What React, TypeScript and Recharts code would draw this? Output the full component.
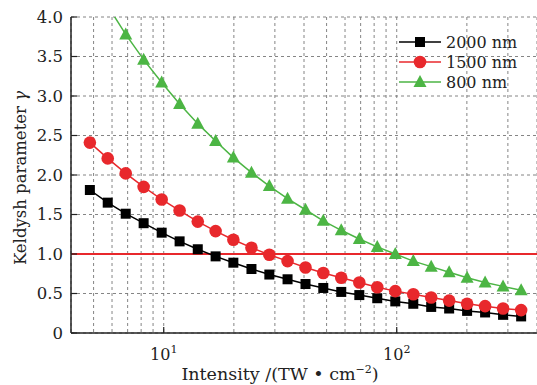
import React from 'react';
import { LineChart, Line, XAxis, YAxis, CartesianGrid, ReferenceLine, Legend } from 'recharts';

// intensity in TW/cm^2 (log-spaced samples)
const intensity = [
  4.82, 5.75, 6.87, 8.2, 9.8, 11.7, 14.0, 16.7, 19.9, 23.8, 28.4, 34.0, 40.6,
  48.4, 57.8, 69.1, 82.5, 98.6, 117.8, 140.6, 167.9, 200.5, 239.5, 286, 342,
];
const gamma2000 = [
  1.81, 1.65, 1.51, 1.39, 1.27, 1.16, 1.06, 0.97, 0.89, 0.81, 0.74, 0.68, 0.62,
  0.57, 0.52, 0.48, 0.44, 0.4, 0.37, 0.33, 0.31, 0.28, 0.26, 0.23, 0.21,
];
const gamma1500 = [
  2.41, 2.21, 2.02, 1.85, 1.69, 1.55, 1.41, 1.29, 1.18, 1.08, 0.99, 0.91, 0.83,
  0.76, 0.7, 0.64, 0.58, 0.53, 0.49, 0.45, 0.41, 0.37, 0.34, 0.31, 0.29,
];
const gamma800 = [
  4.52, 4.14, 3.78, 3.46, 3.17, 2.9, 2.65, 2.43, 2.22, 2.03, 1.86, 1.7, 1.56,
  1.42, 1.3, 1.19, 1.09, 1.0, 0.91, 0.84, 0.77, 0.7, 0.64, 0.59, 0.54,
];
const xTicks = [5, 6, 7, 8, 9, 10, 20, 30, 40, 50, 60, 70, 80, 90, 100, 200, 300];
const yTicks = [0, 0.5, 1, 1.5, 2, 2.5, 3, 3.5, 4];

const FONT = '"DejaVu Serif", "Liberation Serif", serif';
const BLACK = '#000000';
const RED = '#e8282c';
const GREEN = '#4cb544';

const data = intensity.map((x, i) => ({
  x,
  nm2000: gamma2000[i],
  nm1500: gamma1500[i],
  nm800: gamma800[i],
}));

const XTick = (props: any) => {
  const { x, y, payload } = props;
  const v = payload.value;
  if (v !== 10 && v !== 100) return <g />;
  const exp = v === 10 ? '1' : '2';
  return (
    <g>
      <line x1={x} x2={x} y1={y} y2={y - 6} stroke="#222" strokeWidth={1.2} />
      <text x={x} y={y + 27} textAnchor="middle" fontFamily={FONT} fontSize={16} fill="#222">
        10<tspan dy={-7} fontSize={11}>{exp}</tspan>
      </text>
    </g>
  );
};

const YTick = (props: any) => {
  const { x, y, payload } = props;
  const v = payload.value;
  const label = v === 0 ? '0' : v.toFixed(1);
  return (
    <g>
      <line x1={x} x2={x + 6} y1={y} y2={y} stroke="#222" strokeWidth={1.2} />
      <text x={x - 8} y={y} dy="0.36em" textAnchor="end" fontFamily={FONT} fontSize={16.5} fill="#222">
        {label}
      </text>
    </g>
  );
};

const squareDot = (p: any) => (
  <rect key={`sq-${p.index}`} x={p.cx - 5} y={p.cy - 5} width={10} height={10} fill={BLACK} />
);
const circleDot = (p: any) => (
  <circle key={`ci-${p.index}`} cx={p.cx} cy={p.cy} r={6.3} fill={RED} />
);
const triDot = (p: any) => (
  <polygon
    key={`tr-${p.index}`}
    points={`${p.cx},${p.cy - 7} ${p.cx - 6.5},${p.cy + 5} ${p.cx + 6.5},${p.cy + 5}`}
    fill={GREEN}
  />
);

const legendItems = [
  { name: '2000 nm', color: BLACK, shape: 'square' },
  { name: '1500 nm', color: RED, shape: 'circle' },
  { name: '800 nm', color: GREEN, shape: 'triangle' },
];

const LegendBox = () => (
  <div style={{ fontFamily: FONT, fontSize: 16, color: '#222' }}>
    {legendItems.map((it) => (
      <div key={it.name} style={{ display: 'flex', alignItems: 'center', height: 20 }}>
        <svg width={42} height={20}>
          <line x1={0} x2={42} y1={10} y2={10} stroke={it.color} strokeWidth={1.5} />
          {it.shape === 'square' && <rect x={16} y={5} width={10} height={10} fill={it.color} />}
          {it.shape === 'circle' && <circle cx={21} cy={10} r={6.3} fill={it.color} />}
          {it.shape === 'triangle' && <polygon points="21,3 14.5,15 27.5,15" fill={it.color} />}
        </svg>
        <span style={{ marginLeft: 5 }}>{it.name}</span>
      </div>
    ))}
  </div>
);

export default function App() {
  return (
    <div style={{ position: 'absolute', left: 0, top: 0, width: 537, height: 385, background: '#fff' }}>
      <LineChart width={537} height={385} data={data} margin={{ top: 17, right: 0, bottom: 0, left: 0 }}>
        <CartesianGrid stroke="#777" strokeDasharray="3 3" strokeWidth={0.9} />
        <XAxis
          dataKey="x"
          type="number"
          scale="log"
          domain={[4, 400]}
          ticks={xTicks}
          allowDataOverflow
          height={52}
          tickSize={0}
          tickMargin={0}
          tickLine={false}
          tick={<XTick />}
          interval={0}
          axisLine={{ stroke: '#222', strokeWidth: 1.5 }}
          label={{
            content: () => (
              <text x={280} y={380} textAnchor="middle" fontFamily={FONT} fontSize={17.5} fill="#222">
                Intensity /(TW • cm<tspan dy={-7} fontSize={11}>−2</tspan>
                <tspan dy={7}>)</tspan>
              </text>
            ),
          }}
        />
        <XAxis
          xAxisId="top"
          orientation="top"
          dataKey="x"
          type="number"
          scale="log"
          domain={[4, 400]}
          allowDataOverflow
          height={0}
          tick={false}
          tickLine={false}
          axisLine={{ stroke: '#222', strokeWidth: 1.5 }}
        />
        <YAxis
          type="number"
          domain={[0, 4]}
          ticks={yTicks}
          allowDataOverflow
          width={71}
          tickSize={0}
          tickMargin={0}
          tickLine={false}
          tick={<YTick />}
          interval={0}
          axisLine={{ stroke: '#222', strokeWidth: 1.5 }}
          label={{
            content: () => (
              <text
                x={20}
                y={178}
                transform="rotate(-90 20 178)"
                textAnchor="middle"
                dy="0.35em"
                fontFamily={FONT}
                fontSize={16.5}
                fill="#222"
              >
                Keldysh parameter <tspan fontStyle="italic">γ</tspan>
              </text>
            ),
          }}
        />
        <ReferenceLine y={1} stroke={RED} strokeWidth={1.8} ifOverflow="hidden" />
        <Line dataKey="nm2000" stroke={BLACK} strokeWidth={1.5} dot={squareDot} isAnimationActive={false} />
        <Line dataKey="nm1500" stroke={RED} strokeWidth={1.5} dot={circleDot} isAnimationActive={false} />
        <Line dataKey="nm800" stroke={GREEN} strokeWidth={1.5} dot={triDot} isAnimationActive={false} />
        <Legend
          layout="vertical"
          align="center"
          verticalAlign="middle"
          content={<LegendBox />}
          wrapperStyle={{ left: 399, top: 32, width: 'auto', height: 'auto' }}
        />
      </LineChart>
    </div>
  );
}
